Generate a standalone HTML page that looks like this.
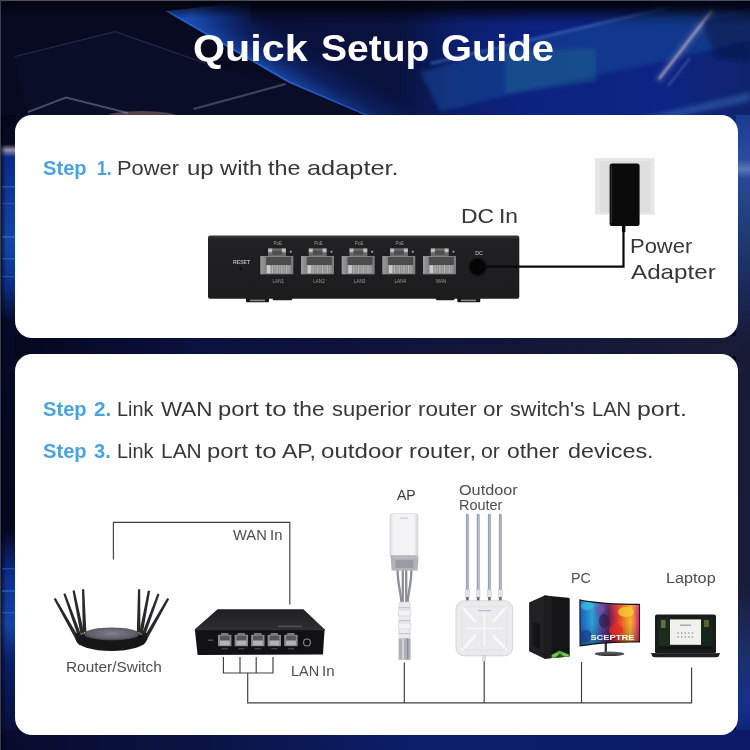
<!DOCTYPE html>
<html>
<head>
<meta charset="utf-8">
<title>Quick Setup Guide</title>
<style>
html,body{margin:0;padding:0;}
body{width:750px;height:750px;overflow:hidden;position:relative;background:#060a22;font-family:"Liberation Sans",sans-serif;}
#bg{position:absolute;left:0;top:0;width:750px;height:750px;}
.card{position:absolute;background:#fff;border-radius:17px;}
#c1{left:15px;top:115px;width:722.5px;height:223px;}
#c2{left:15px;top:353.5px;width:722.5px;height:381px;}
.w{position:absolute;white-space:nowrap;color:#363636;transform-origin:0 0;line-height:1;}
svg{position:absolute;left:0;top:0;}
</style>
</head>
<body>
<svg id="bg" width="750" height="750" viewBox="0 0 750 750">
<defs>
<linearGradient id="gBase" x1="0" y1="0" x2="1" y2="0">
<stop offset="0" stop-color="#03040f"/><stop offset="0.3" stop-color="#04061a"/><stop offset="0.5" stop-color="#0a1c6a"/><stop offset="0.65" stop-color="#0e2a8e"/><stop offset="0.85" stop-color="#123096"/><stop offset="1" stop-color="#122a7c"/>
</linearGradient>
<linearGradient id="gPara" gradientUnits="userSpaceOnUse" x1="165" y1="0" x2="750" y2="0">
<stop offset="0" stop-color="#0b1648"/><stop offset="0.15" stop-color="#09103a"/><stop offset="0.4" stop-color="#09123e"/><stop offset="0.5" stop-color="#0b1e6c"/><stop offset="0.62" stop-color="#0c2280"/><stop offset="0.85" stop-color="#0d2484"/><stop offset="1" stop-color="#10246c"/>
</linearGradient>
<linearGradient id="gEdge" gradientUnits="userSpaceOnUse" x1="165" y1="11" x2="187.6" y2="-28">
<stop offset="0" stop-color="#1c4cb0" stop-opacity="0.9"/><stop offset="0.4" stop-color="#143a98" stop-opacity="0.4"/><stop offset="1" stop-color="#0c2070" stop-opacity="0"/>
</linearGradient>
<radialGradient id="gVtx" gradientUnits="userSpaceOnUse" cx="192" cy="14" r="72">
<stop offset="0" stop-color="#1e56c0" stop-opacity="0.7"/><stop offset="0.55" stop-color="#143c9c" stop-opacity="0.3"/><stop offset="1" stop-color="#0c2070" stop-opacity="0"/>
</radialGradient>
<linearGradient id="gTopDark" x1="0" y1="0" x2="0" y2="1">
<stop offset="0" stop-color="#02030e" stop-opacity="1"/><stop offset="1" stop-color="#02030e" stop-opacity="0"/>
</linearGradient>
<linearGradient id="gLeft" x1="0" y1="0" x2="0" y2="1">
<stop offset="0" stop-color="#04061a"/><stop offset="0.046" stop-color="#070a24"/><stop offset="0.055" stop-color="#9a90ae"/><stop offset="0.066" stop-color="#0c2a8a"/><stop offset="0.2" stop-color="#1346a8"/><stop offset="0.27" stop-color="#0c2c86"/><stop offset="0.325" stop-color="#060a28"/><stop offset="0.65" stop-color="#05071e"/><stop offset="0.72" stop-color="#0c2a88"/><stop offset="0.8" stop-color="#1444a6"/><stop offset="0.86" stop-color="#0a1e66"/><stop offset="1" stop-color="#070b30"/>
</linearGradient>
<linearGradient id="gRight" x1="0" y1="0" x2="0" y2="1">
<stop offset="0" stop-color="#1a3a90"/><stop offset="0.07" stop-color="#2c4c9c"/><stop offset="0.085" stop-color="#5a78b8"/><stop offset="0.1" stop-color="#2a4894"/><stop offset="0.16" stop-color="#22407e"/><stop offset="0.27" stop-color="#1a2a5a"/><stop offset="0.36" stop-color="#171b36"/><stop offset="0.74" stop-color="#181c38"/><stop offset="0.84" stop-color="#1c2e66"/><stop offset="0.93" stop-color="#14308a"/><stop offset="1" stop-color="#0a1a66"/>
</linearGradient>
<linearGradient id="gGap" x1="0" y1="0" x2="1" y2="0">
<stop offset="0" stop-color="#05071e"/><stop offset="0.25" stop-color="#0a1040"/><stop offset="0.6" stop-color="#10153a"/><stop offset="1" stop-color="#181c36"/>
</linearGradient>
<linearGradient id="gBot" x1="0" y1="0" x2="1" y2="0">
<stop offset="0" stop-color="#070b2c"/><stop offset="0.3" stop-color="#0a1446"/><stop offset="0.55" stop-color="#0c1e6a"/><stop offset="1" stop-color="#0a1a66"/>
</linearGradient>
</defs>
<rect width="750" height="750" fill="#05071e"/>
<!-- top band -->
<rect x="0" y="0" width="750" height="130" fill="url(#gBase)"/>
<polygon points="165,11 262,0 750,0 750,130 400,130 289,83" fill="url(#gPara)"/>
<polygon points="165,11 262,0 750,0 750,130 400,130 289,83" fill="url(#gEdge)"/>
<polygon points="165,11 262,0 750,0 750,130 400,130 289,83" fill="url(#gVtx)"/>
<polygon points="165,11 167,10 291,82 402,130 398,130 289,84" fill="#2a66d0" opacity="0.8"/>
<polygon points="0,0 262,0 165,11 289,83 400,130 0,130" fill="#070a20"/>
<!-- light streaks right -->
<filter id="bl2" x="-10%" y="-30%" width="120%" height="160%"><feGaussianBlur stdDeviation="2.2"/></filter>
<filter id="bl1" x="-10%" y="-30%" width="120%" height="160%"><feGaussianBlur stdDeviation="1"/></filter>
<g filter="url(#bl2)">
<polygon points="420,72 540,38 666,8 750,10 750,40 697,53 652,64 540,87 440,112" fill="#1c4c9a" opacity="0.5"/>
<polygon points="505,52 596,48 596,81 505,94" fill="#1a5c8e" opacity="0.55"/>
<polygon points="600,130 652,115 750,92 750,101 652,123 625,130" fill="#3a6ab8" opacity="0.5"/>
<line x1="657.6" y1="81" x2="713.6" y2="8.4" stroke="#6a7ab8" stroke-width="8" opacity="0.35"/>
<polygon points="700,18 750,14 750,62 716,58" fill="#0a1448" opacity="0.55"/>
</g>
<g filter="url(#bl1)">
<polygon points="430,62 540,36 666,6 668,9 541,39 431,65" fill="#4a7ac8" opacity="0.5"/>
<line x1="659" y1="79" x2="712" y2="10.5" stroke="#d8c8cc" stroke-width="2.4" opacity="0.65"/>
<line x1="668" y1="86" x2="690" y2="58" stroke="#8a9ad0" stroke-width="2" opacity="0.4"/>
</g>
<rect x="250" y="0" width="500" height="26" fill="url(#gTopDark)" opacity="0.8"/>
<!-- grey streaks left -->
<polygon points="193,108 285,83 286,85 194,110" fill="#9a9cae" opacity="0.8"/>
<polygon points="15,56 115,31 215,66 215,67.2 115,32.4 15,57.2" fill="#2a3156" opacity="0.8"/>
<polygon points="115,32.4 215,67.2 289,84 400,130 30,130 15,57.2" fill="#0c1030" opacity="0.55"/>
<polygon points="28,111 66,96.5 128,112 128,114 66,98.5 28,113" fill="#6a6c84" opacity="0.7"/>
<ellipse cx="142" cy="116" rx="34" ry="5" fill="#c09080" opacity="0.4"/>
<rect x="0" y="0" width="750" height="18" fill="url(#gTopDark)"/>
<!-- strips -->
<rect x="0" y="115" width="16" height="635" fill="url(#gLeft)"/>
<rect x="736" y="115" width="14" height="635" fill="url(#gRight)"/>
<rect x="14" y="336" width="726" height="20" fill="url(#gGap)"/>
<rect x="0" y="730" width="750" height="20" fill="url(#gBot)"/>
<linearGradient id="gLfade" x1="0" y1="0" x2="1" y2="0"><stop offset="0" stop-color="#03040f" stop-opacity="0.85"/><stop offset="1" stop-color="#03040f" stop-opacity="0"/></linearGradient>
<rect x="0" y="115" width="6" height="635" fill="url(#gLfade)"/>
<g fill="#3a7ad0" opacity="0.45"><rect x="2" y="186" width="14" height="1.6"/><rect x="2" y="203" width="14" height="1.2"/><rect x="2" y="236" width="14" height="2"/><rect x="2" y="258" width="14" height="1.4"/><rect x="2" y="276" width="14" height="1.2"/><rect x="2" y="568" width="14" height="1.4"/><rect x="2" y="590" width="14" height="2"/><rect x="2" y="612" width="14" height="1.4"/></g>
<!-- edge highlight -->
<rect x="0" y="0" width="750" height="1" fill="#4a4e60"/>
<rect x="0" y="0" width="1" height="750" fill="#3a3e52"/>
</svg>
<div id="c1" class="card"></div>
<div id="c2" class="card"></div>
<div id="words" style="position:absolute;left:0;top:0;width:750px;height:750px;will-change:transform;"><!--WORDS-->
<span class="w" style="left:193.4px;top:30.3px;font-size:37.5px;transform:scaleX(1.100);font-weight:bold;color:#fff;">Quick</span>
<span class="w" style="left:320.6px;top:30.3px;font-size:37.5px;transform:scaleX(1.039);font-weight:bold;color:#fff;">Setup</span>
<span class="w" style="left:441.1px;top:30.3px;font-size:37.5px;transform:scaleX(1.063);font-weight:bold;color:#fff;">Guide</span>
<span class="w" style="left:43.1px;top:157.5px;font-size:20.7px;transform:scaleX(0.974);font-weight:bold;color:#4ba3de;">Step</span>
<span class="w" style="left:96.5px;top:157.5px;font-size:20.7px;transform:scaleX(0.853);font-weight:bold;color:#4ba3de;">1.</span>
<span class="w" style="left:116.9px;top:157.5px;font-size:20.7px;transform:scaleX(1.058);">Power</span>
<span class="w" style="left:186.6px;top:157.5px;font-size:20.7px;transform:scaleX(1.160);">up</span>
<span class="w" style="left:219.7px;top:157.5px;font-size:20.7px;transform:scaleX(1.148);">with</span>
<span class="w" style="left:267.6px;top:157.5px;font-size:20.7px;transform:scaleX(1.128);">the</span>
<span class="w" style="left:306.9px;top:157.5px;font-size:20.7px;transform:scaleX(1.225);">adapter.</span>
<span class="w" style="left:43.1px;top:398.7px;font-size:20.7px;transform:scaleX(0.974);font-weight:bold;color:#4ba3de;">Step</span>
<span class="w" style="left:93.7px;top:398.7px;font-size:20.7px;transform:scaleX(1.002);font-weight:bold;color:#4ba3de;">2.</span>
<span class="w" style="left:117.1px;top:398.7px;font-size:20.7px;transform:scaleX(0.962);">Link</span>
<span class="w" style="left:160.9px;top:398.7px;font-size:20.7px;transform:scaleX(1.084);">WAN</span>
<span class="w" style="left:217.5px;top:398.7px;font-size:20.7px;transform:scaleX(1.147);">port</span>
<span class="w" style="left:265.3px;top:398.7px;font-size:20.7px;transform:scaleX(1.243);">to</span>
<span class="w" style="left:293.4px;top:398.7px;font-size:20.7px;transform:scaleX(1.099);">the</span>
<span class="w" style="left:332.3px;top:398.7px;font-size:20.7px;transform:scaleX(1.061);">superior</span>
<span class="w" style="left:417.8px;top:398.7px;font-size:20.7px;transform:scaleX(1.087);">router</span>
<span class="w" style="left:483.1px;top:398.7px;font-size:20.7px;transform:scaleX(1.085);">or</span>
<span class="w" style="left:509.7px;top:398.7px;font-size:20.7px;transform:scaleX(1.045);">switch&#39;s</span>
<span class="w" style="left:592.3px;top:398.7px;font-size:20.7px;transform:scaleX(0.972);">LAN</span>
<span class="w" style="left:637.1px;top:398.7px;font-size:20.7px;transform:scaleX(1.203);">port.</span>
<span class="w" style="left:43.1px;top:440.7px;font-size:20.7px;transform:scaleX(0.974);font-weight:bold;color:#4ba3de;">Step</span>
<span class="w" style="left:94.2px;top:440.7px;font-size:20.7px;transform:scaleX(0.969);font-weight:bold;color:#4ba3de;">3.</span>
<span class="w" style="left:117.1px;top:440.7px;font-size:20.7px;transform:scaleX(0.962);">Link</span>
<span class="w" style="left:160.6px;top:440.7px;font-size:20.7px;transform:scaleX(1.012);">LAN</span>
<span class="w" style="left:206.8px;top:440.7px;font-size:20.7px;transform:scaleX(1.150);">port</span>
<span class="w" style="left:254.5px;top:440.7px;font-size:20.7px;transform:scaleX(1.243);">to</span>
<span class="w" style="left:282.3px;top:440.7px;font-size:20.7px;transform:scaleX(1.108);">AP,</span>
<span class="w" style="left:321.3px;top:440.7px;font-size:20.7px;transform:scaleX(1.165);">outdoor</span>
<span class="w" style="left:408.5px;top:440.7px;font-size:20.7px;transform:scaleX(1.145);">router,</span>
<span class="w" style="left:480.7px;top:440.7px;font-size:20.7px;transform:scaleX(1.027);">or</span>
<span class="w" style="left:507.1px;top:440.7px;font-size:20.7px;transform:scaleX(1.107);">other</span>
<span class="w" style="left:567.8px;top:440.7px;font-size:20.7px;transform:scaleX(1.128);">devices.</span>
<span class="w" style="left:461.2px;top:206.3px;font-size:20.7px;transform:scaleX(1.110);">DC</span>
<span class="w" style="left:499.4px;top:206.3px;font-size:20.7px;transform:scaleX(1.101);">In</span>
<span class="w" style="left:629.7px;top:235.5px;font-size:20.7px;transform:scaleX(1.061);">Power</span>
<span class="w" style="left:630.9px;top:262.2px;font-size:20.7px;transform:scaleX(1.169);">Adapter</span>
<span class="w" style="left:232.5px;top:528.4px;font-size:14px;transform:scaleX(1.051);color:#4d4d4d;">WAN</span>
<span class="w" style="left:269.6px;top:528.4px;font-size:14px;transform:scaleX(1.061);color:#4d4d4d;">In</span>
<span class="w" style="left:291.2px;top:664.2px;font-size:14px;transform:scaleX(1.032);color:#4d4d4d;">LAN</span>
<span class="w" style="left:322.4px;top:664.2px;font-size:14px;transform:scaleX(1.071);color:#4d4d4d;">In</span>
<span class="w" style="left:66.1px;top:659.9px;font-size:14px;transform:scaleX(1.100);color:#4d4d4d;">Router/Switch</span>
<span class="w" style="left:396.6px;top:488.2px;font-size:14px;transform:scaleX(1.003);color:#3a3a3a;">AP</span>
<span class="w" style="left:458.7px;top:482.6px;font-size:14px;transform:scaleX(1.158);color:#4d4d4d;">Outdoor</span>
<span class="w" style="left:458.8px;top:498.2px;font-size:14px;transform:scaleX(1.033);color:#4d4d4d;">Router</span>
<span class="w" style="left:570.9px;top:570.7px;font-size:14px;transform:scaleX(1.022);color:#4d4d4d;">PC</span>
<span class="w" style="left:665.8px;top:570.9px;font-size:14px;transform:scaleX(1.160);color:#4d4d4d;">Laptop</span>
<!--/WORDS--></div>
<svg id="fg" width="750" height="750" viewBox="0 0 750 750" font-family="Liberation Sans, sans-serif">
<!--C1-->
<!-- switch rear -->
<defs><linearGradient id="gSw" x1="0" y1="0" x2="0" y2="1"><stop offset="0" stop-color="#3a3a3c"/><stop offset="0.04" stop-color="#2c2c2e"/><stop offset="0.06" stop-color="#212123"/><stop offset="1" stop-color="#1c1c1e"/></linearGradient><linearGradient id="gPort" x1="0" y1="0" x2="1" y2="0"><stop offset="0" stop-color="#9c9c9c"/><stop offset="0.15" stop-color="#868686"/><stop offset="1" stop-color="#7c7c7c"/></linearGradient></defs>
<rect x="246" y="297" width="23" height="5.3" rx="1" fill="#151515"/><rect x="250" y="299.6" width="15" height="1.6" fill="#8a8a8a"/>
<rect x="272.7" y="297" width="19.5" height="3.2" rx="1" fill="#1a1a1a"/>
<rect x="436" y="297" width="18.5" height="3.2" rx="1" fill="#1a1a1a"/>
<rect x="457.3" y="297" width="23" height="5.3" rx="1" fill="#151515"/><rect x="461" y="299.6" width="15" height="1.6" fill="#8a8a8a"/>
<rect x="208" y="235.6" width="311.3" height="63.2" rx="2" fill="url(#gSw)"/>
<rect x="268.0" y="248.3" width="18" height="8.5" fill="#6a6a6a"/>
<rect x="268.2" y="248.6" width="4" height="3.6" fill="#bebebe"/><rect x="281.8" y="248.6" width="4" height="3.6" fill="#bebebe"/>
<rect x="272.2" y="250.8" width="9.6" height="4" fill="#4e4e4e"/>
<rect x="260.3" y="256" width="33" height="18.3" fill="url(#gPort)"/>
<rect x="266.1" y="257" width="25" height="8" fill="#4c4c4c"/>
<rect x="266.1" y="265" width="25" height="8.4" fill="#8e8e8e"/>
<rect x="266.9" y="265.2" width="3.6" height="8" fill="#cacaca"/>
<rect x="271.9" y="265.4" width="1.1" height="7.8" fill="#b8b8b8"/>
<rect x="274.3" y="265.4" width="1.1" height="7.8" fill="#a4a4a4"/>
<rect x="276.6" y="265.4" width="1.1" height="7.8" fill="#b8b8b8"/>
<rect x="279.0" y="265.4" width="1.1" height="7.8" fill="#a4a4a4"/>
<rect x="281.3" y="265.4" width="1.1" height="7.8" fill="#b8b8b8"/>
<rect x="283.7" y="265.4" width="1.1" height="7.8" fill="#a4a4a4"/>
<rect x="286.0" y="265.4" width="1.1" height="7.8" fill="#b8b8b8"/>
<rect x="288.4" y="265.4" width="1.1" height="7.8" fill="#a4a4a4"/>
<rect x="289.9" y="250.8" width="1.8" height="1.8" fill="#acacac"/>
<text x="277.8" y="245" font-size="4.6" fill="#9a9a9a" text-anchor="middle">PoE</text>
<text x="278.3" y="283" font-size="4.6" fill="#9a9a9a" text-anchor="middle">LAN1</text>
<rect x="308.7" y="248.3" width="18" height="8.5" fill="#6a6a6a"/>
<rect x="308.9" y="248.6" width="4" height="3.6" fill="#bebebe"/><rect x="322.5" y="248.6" width="4" height="3.6" fill="#bebebe"/>
<rect x="312.9" y="250.8" width="9.6" height="4" fill="#4e4e4e"/>
<rect x="301.0" y="256" width="33" height="18.3" fill="url(#gPort)"/>
<rect x="306.8" y="257" width="25" height="8" fill="#4c4c4c"/>
<rect x="306.8" y="265" width="25" height="8.4" fill="#8e8e8e"/>
<rect x="307.6" y="265.2" width="3.6" height="8" fill="#cacaca"/>
<rect x="312.6" y="265.4" width="1.1" height="7.8" fill="#b8b8b8"/>
<rect x="315.0" y="265.4" width="1.1" height="7.8" fill="#a4a4a4"/>
<rect x="317.3" y="265.4" width="1.1" height="7.8" fill="#b8b8b8"/>
<rect x="319.7" y="265.4" width="1.1" height="7.8" fill="#a4a4a4"/>
<rect x="322.0" y="265.4" width="1.1" height="7.8" fill="#b8b8b8"/>
<rect x="324.4" y="265.4" width="1.1" height="7.8" fill="#a4a4a4"/>
<rect x="326.7" y="265.4" width="1.1" height="7.8" fill="#b8b8b8"/>
<rect x="329.1" y="265.4" width="1.1" height="7.8" fill="#a4a4a4"/>
<rect x="330.6" y="250.8" width="1.8" height="1.8" fill="#acacac"/>
<text x="318.5" y="245" font-size="4.6" fill="#9a9a9a" text-anchor="middle">PoE</text>
<text x="319.0" y="283" font-size="4.6" fill="#9a9a9a" text-anchor="middle">LAN2</text>
<rect x="349.4" y="248.3" width="18" height="8.5" fill="#6a6a6a"/>
<rect x="349.6" y="248.6" width="4" height="3.6" fill="#bebebe"/><rect x="363.2" y="248.6" width="4" height="3.6" fill="#bebebe"/>
<rect x="353.6" y="250.8" width="9.6" height="4" fill="#4e4e4e"/>
<rect x="341.7" y="256" width="33" height="18.3" fill="url(#gPort)"/>
<rect x="347.5" y="257" width="25" height="8" fill="#4c4c4c"/>
<rect x="347.5" y="265" width="25" height="8.4" fill="#8e8e8e"/>
<rect x="348.3" y="265.2" width="3.6" height="8" fill="#cacaca"/>
<rect x="353.3" y="265.4" width="1.1" height="7.8" fill="#b8b8b8"/>
<rect x="355.7" y="265.4" width="1.1" height="7.8" fill="#a4a4a4"/>
<rect x="358.0" y="265.4" width="1.1" height="7.8" fill="#b8b8b8"/>
<rect x="360.4" y="265.4" width="1.1" height="7.8" fill="#a4a4a4"/>
<rect x="362.7" y="265.4" width="1.1" height="7.8" fill="#b8b8b8"/>
<rect x="365.1" y="265.4" width="1.1" height="7.8" fill="#a4a4a4"/>
<rect x="367.4" y="265.4" width="1.1" height="7.8" fill="#b8b8b8"/>
<rect x="369.8" y="265.4" width="1.1" height="7.8" fill="#a4a4a4"/>
<rect x="371.3" y="250.8" width="1.8" height="1.8" fill="#acacac"/>
<text x="359.2" y="245" font-size="4.6" fill="#9a9a9a" text-anchor="middle">PoE</text>
<text x="359.7" y="283" font-size="4.6" fill="#9a9a9a" text-anchor="middle">LAN3</text>
<rect x="390.0" y="248.3" width="18" height="8.5" fill="#6a6a6a"/>
<rect x="390.2" y="248.6" width="4" height="3.6" fill="#bebebe"/><rect x="403.8" y="248.6" width="4" height="3.6" fill="#bebebe"/>
<rect x="394.2" y="250.8" width="9.6" height="4" fill="#4e4e4e"/>
<rect x="382.3" y="256" width="33" height="18.3" fill="url(#gPort)"/>
<rect x="388.1" y="257" width="25" height="8" fill="#4c4c4c"/>
<rect x="388.1" y="265" width="25" height="8.4" fill="#8e8e8e"/>
<rect x="388.9" y="265.2" width="3.6" height="8" fill="#cacaca"/>
<rect x="393.9" y="265.4" width="1.1" height="7.8" fill="#b8b8b8"/>
<rect x="396.3" y="265.4" width="1.1" height="7.8" fill="#a4a4a4"/>
<rect x="398.6" y="265.4" width="1.1" height="7.8" fill="#b8b8b8"/>
<rect x="401.0" y="265.4" width="1.1" height="7.8" fill="#a4a4a4"/>
<rect x="403.3" y="265.4" width="1.1" height="7.8" fill="#b8b8b8"/>
<rect x="405.7" y="265.4" width="1.1" height="7.8" fill="#a4a4a4"/>
<rect x="408.0" y="265.4" width="1.1" height="7.8" fill="#b8b8b8"/>
<rect x="410.4" y="265.4" width="1.1" height="7.8" fill="#a4a4a4"/>
<rect x="411.9" y="250.8" width="1.8" height="1.8" fill="#acacac"/>
<text x="399.8" y="245" font-size="4.6" fill="#9a9a9a" text-anchor="middle">PoE</text>
<text x="400.3" y="283" font-size="4.6" fill="#9a9a9a" text-anchor="middle">LAN4</text>
<rect x="430.7" y="248.3" width="18" height="8.5" fill="#6a6a6a"/>
<rect x="430.9" y="248.6" width="4" height="3.6" fill="#bebebe"/><rect x="444.5" y="248.6" width="4" height="3.6" fill="#bebebe"/>
<rect x="434.9" y="250.8" width="9.6" height="4" fill="#4e4e4e"/>
<rect x="423.0" y="256" width="33" height="18.3" fill="url(#gPort)"/>
<rect x="428.8" y="257" width="25" height="8" fill="#4c4c4c"/>
<rect x="428.8" y="265" width="25" height="8.4" fill="#8e8e8e"/>
<rect x="429.6" y="265.2" width="3.6" height="8" fill="#cacaca"/>
<rect x="434.6" y="265.4" width="1.1" height="7.8" fill="#b8b8b8"/>
<rect x="437.0" y="265.4" width="1.1" height="7.8" fill="#a4a4a4"/>
<rect x="439.3" y="265.4" width="1.1" height="7.8" fill="#b8b8b8"/>
<rect x="441.7" y="265.4" width="1.1" height="7.8" fill="#a4a4a4"/>
<rect x="444.0" y="265.4" width="1.1" height="7.8" fill="#b8b8b8"/>
<rect x="446.4" y="265.4" width="1.1" height="7.8" fill="#a4a4a4"/>
<rect x="448.7" y="265.4" width="1.1" height="7.8" fill="#b8b8b8"/>
<rect x="451.1" y="265.4" width="1.1" height="7.8" fill="#a4a4a4"/>
<rect x="452.6" y="250.8" width="1.8" height="1.8" fill="#acacac"/>
<text x="441.0" y="283" font-size="4.6" fill="#9a9a9a" text-anchor="middle">WAN</text>
<text x="241.6" y="263.6" font-size="5.2" fill="#b4b4b4" text-anchor="middle" font-weight="bold">RESET</text>
<circle cx="240.8" cy="268.6" r="1.3" fill="#0a0a0a"/>
<text x="479" y="254.5" font-size="5.2" fill="#d0d0d0" text-anchor="middle">DC</text>
<circle cx="477.6" cy="267" r="9.6" fill="#161616"/><circle cx="477.6" cy="267" r="8" fill="#050505"/>
<path d="M478 266.7 H623.5 V226" fill="none" stroke="#0a0a0a" stroke-width="2.2"/>
<rect x="622" y="225" width="3.4" height="7" fill="#0a0a0a"/>
<rect x="595" y="158" width="59.5" height="56.6" fill="#e6e6e6"/><rect x="600" y="161" width="50" height="51" fill="#dedede"/>
<rect x="609.6" y="163.6" width="30" height="62.4" rx="2.6" fill="#0b0b0b"/><rect x="610.6" y="166" width="1.6" height="57" fill="#2a2a2a"/>
<!--/C1-->
<!--C2-->
<g fill="none" stroke="#3e3e3e" stroke-width="1.15">
<path d="M113.4 559.5 V522.3 H289.8 V604.5"/>
<path d="M223.4 657 V673 H273 V657 M240 657 V673 M256.2 657 V673"/>
<path d="M247.7 673 V702.8 H691.6 V667.5"/>
<path d="M404.3 662.5 V702.8 M484.2 660 V702.8 M581.5 662 V702.8"/>
</g>
<polygon points="53.7,598.9 55.7,597.9 78.9,637.6 75.7,639.4" fill="#29292b"/>
<polygon points="63.4,594.0 65.4,593.2 81.5,635.7 78.1,636.9" fill="#29292b"/>
<polygon points="72.5,590.7 74.7,590.3 84.1,633.3 80.5,634.1" fill="#29292b"/>
<polygon points="82.0,589.2 84.2,589.2 86.4,631.9 82.8,632.1" fill="#29292b"/>
<polygon points="138.0,589.2 140.2,589.2 140.4,632.0 136.8,632.0" fill="#29292b"/>
<polygon points="147.9,590.5 150.1,590.9 142.7,634.0 139.1,633.4" fill="#29292b"/>
<polygon points="157.5,593.5 159.5,594.3 144.6,636.9 141.2,635.7" fill="#29292b"/>
<polygon points="167.2,597.9 169.2,598.9 147.0,639.4 143.8,637.6" fill="#29292b"/>
<defs><radialGradient id="gRt" cx="0.5" cy="0.45" r="0.6"><stop offset="0" stop-color="#80808a"/><stop offset="0.7" stop-color="#5e5e68"/><stop offset="1" stop-color="#2c2c30"/></radialGradient></defs>
<ellipse cx="111.3" cy="640.2" rx="35.2" ry="10.8" fill="#161618"/>
<ellipse cx="111.7" cy="634" rx="28" ry="6.5" fill="url(#gRt)"/>
<rect x="75.6" y="633" width="4.4" height="7" fill="#1a1a1c"/><rect x="142.8" y="633" width="4.4" height="7" fill="#1a1a1c"/>
<defs><linearGradient id="gTop" x1="0" y1="0" x2="0" y2="1"><stop offset="0" stop-color="#1f1f21"/><stop offset="1" stop-color="#2e2e31"/></linearGradient></defs>
<polygon points="217.6,609.3 303.4,609.3 324.6,629.3 194.8,629.3" fill="url(#gTop)"/>
<polygon points="194.8,629.1 324.6,629.1 323,654.6 197.6,655" fill="#121214"/>
<rect x="195.2" y="628.9" width="129.8" height="1.3" fill="#303033"/>
<rect x="278" y="625.6" width="24" height="1.6" fill="#505054"/>
<rect x="208" y="639.6" width="5" height="1.2" fill="#5a5a5e"/>
<rect x="218.0" y="634.8" width="13.4" height="11.4" fill="#8a8a8e"/>
<rect x="221.0" y="633" width="7.4" height="3" fill="#7a7a7e"/>
<rect x="220.0" y="636" width="9.6" height="4.6" fill="#55555a"/>
<rect x="220.0" y="640.6" width="9.6" height="4.6" fill="#b4b4b8"/>
<rect x="221.8" y="648.2" width="6" height="1.1" fill="#505054"/>
<rect x="234.6" y="634.8" width="13.4" height="11.4" fill="#8a8a8e"/>
<rect x="237.6" y="633" width="7.4" height="3" fill="#7a7a7e"/>
<rect x="236.6" y="636" width="9.6" height="4.6" fill="#55555a"/>
<rect x="236.6" y="640.6" width="9.6" height="4.6" fill="#b4b4b8"/>
<rect x="238.4" y="648.2" width="6" height="1.1" fill="#505054"/>
<rect x="251.1" y="634.8" width="13.4" height="11.4" fill="#8a8a8e"/>
<rect x="254.1" y="633" width="7.4" height="3" fill="#7a7a7e"/>
<rect x="253.1" y="636" width="9.6" height="4.6" fill="#55555a"/>
<rect x="253.1" y="640.6" width="9.6" height="4.6" fill="#b4b4b8"/>
<rect x="254.9" y="648.2" width="6" height="1.1" fill="#505054"/>
<rect x="267.6" y="634.8" width="13.4" height="11.4" fill="#8a8a8e"/>
<rect x="270.6" y="633" width="7.4" height="3" fill="#7a7a7e"/>
<rect x="269.6" y="636" width="9.6" height="4.6" fill="#55555a"/>
<rect x="269.6" y="640.6" width="9.6" height="4.6" fill="#b4b4b8"/>
<rect x="271.4" y="648.2" width="6" height="1.1" fill="#505054"/>
<rect x="284.2" y="634.8" width="13.4" height="11.4" fill="#8a8a8e"/>
<rect x="287.2" y="633" width="7.4" height="3" fill="#7a7a7e"/>
<rect x="286.2" y="636" width="9.6" height="4.6" fill="#55555a"/>
<rect x="286.2" y="640.6" width="9.6" height="4.6" fill="#b4b4b8"/>
<rect x="288.0" y="648.2" width="6" height="1.1" fill="#505054"/>
<circle cx="307" cy="642.4" r="3.4" fill="#0c0c0e" stroke="#8c8c90" stroke-width="1.1"/>
<defs><linearGradient id="gAP" x1="0" y1="0" x2="1" y2="0"><stop offset="0" stop-color="#dcdce0"/><stop offset="0.12" stop-color="#f2f2f4"/><stop offset="0.85" stop-color="#f4f4f6"/><stop offset="1" stop-color="#d6d6da"/></linearGradient></defs>
<g fill="none" stroke="#8e8e98" stroke-width="2.3"><path d="M397.6 569 C397.6 585 401 592 401.4 603"/><path d="M411.4 569 C411.4 585 408 592 407.6 603"/><path d="M402.8 569 V603"/><path d="M406.2 569 V603"/></g>
<polygon points="390.6,557 418.6,557 417.6,570.4 391.6,570.4" fill="#b2b2ba"/>
<rect x="395.5" y="560" width="18" height="8" fill="#9a9aa2"/>
<rect x="390" y="513.6" width="28" height="43.4" rx="2.6" fill="url(#gAP)" stroke="#d0d0d6" stroke-width="0.6"/>
<rect x="390.4" y="555.2" width="27.2" height="1.8" fill="#b4b4bc"/>
<rect x="400" y="517.6" width="8" height="1" fill="#c4c4cc"/>
<rect x="399" y="602" width="11" height="36.4" rx="1.5" fill="#ebebef" stroke="#cfcfd5" stroke-width="0.6"/>
<rect x="398.4" y="607.0" width="12.2" height="1.2" fill="#c8c8d0"/>
<rect x="398.4" y="613.0" width="12.2" height="1.2" fill="#c8c8d0"/>
<rect x="398.4" y="620.0" width="12.2" height="1.2" fill="#c8c8d0"/>
<rect x="398.4" y="627.0" width="12.2" height="1.2" fill="#c8c8d0"/>
<rect x="398.4" y="633.0" width="12.2" height="1.2" fill="#c8c8d0"/>
<rect x="398.4" y="610" width="12.6" height="6" rx="1" fill="#f2f2f5" stroke="#c8c8d0" stroke-width="0.5"/>
<rect x="398.4" y="623" width="12.6" height="6" rx="1" fill="#f2f2f5" stroke="#c8c8d0" stroke-width="0.5"/>
<rect x="398.6" y="638.4" width="12" height="21.4" fill="#b0b0b8"/><rect x="402" y="638.4" width="2" height="21.4" fill="#d4d4da"/><rect x="407" y="638.4" width="1.4" height="21.4" fill="#8e8e96"/>
<rect x="465.9" y="513.8" width="3" height="77" rx="1.4" fill="#98a0b4"/>
<rect x="467.5" y="515" width="0.8" height="74" fill="#c6cad8"/>
<rect x="465.6" y="589.5" width="3.6" height="8" fill="#e4e4e8" stroke="#b8b8c0" stroke-width="0.4"/>
<rect x="466.1" y="597" width="2.6" height="4" fill="#6a6a72"/>
<rect x="476.7" y="513.8" width="3" height="77" rx="1.4" fill="#98a0b4"/>
<rect x="478.3" y="515" width="0.8" height="74" fill="#c6cad8"/>
<rect x="476.4" y="589.5" width="3.6" height="8" fill="#e4e4e8" stroke="#b8b8c0" stroke-width="0.4"/>
<rect x="476.9" y="597" width="2.6" height="4" fill="#6a6a72"/>
<rect x="487.9" y="513.8" width="3" height="77" rx="1.4" fill="#98a0b4"/>
<rect x="489.5" y="515" width="0.8" height="74" fill="#c6cad8"/>
<rect x="487.6" y="589.5" width="3.6" height="8" fill="#e4e4e8" stroke="#b8b8c0" stroke-width="0.4"/>
<rect x="488.1" y="597" width="2.6" height="4" fill="#6a6a72"/>
<rect x="498.9" y="513.8" width="3" height="77" rx="1.4" fill="#98a0b4"/>
<rect x="500.5" y="515" width="0.8" height="74" fill="#c6cad8"/>
<rect x="498.6" y="589.5" width="3.6" height="8" fill="#e4e4e8" stroke="#b8b8c0" stroke-width="0.4"/>
<rect x="499.1" y="597" width="2.6" height="4" fill="#6a6a72"/>
<rect x="456" y="600.8" width="56.6" height="55" rx="8" fill="#ebebef" stroke="#d2d2d8" stroke-width="0.9"/>
<g fill="none" stroke="#f8f8fa" stroke-width="2.6"><path d="M462 607 L476 622 M506.6 607 L492.6 622 M462 650 L476 635 M506.6 650 L492.6 635"/><path d="M484.3 612 V646 M466 628.5 H502.6" stroke-width="1.6"/></g>
<rect x="462" y="606.6" width="44.6" height="43.6" rx="5" fill="none" stroke="#dcdce2" stroke-width="0.8"/>
<rect x="478" y="610" width="13" height="1.2" fill="#b8bcc8"/>
<rect x="482.8" y="655.8" width="3" height="5.4" fill="#dcdce2" stroke="#b8b8c0" stroke-width="0.4"/>
<defs><linearGradient id="gGrn" x1="0" y1="0" x2="0" y2="1"><stop offset="0" stop-color="#3c8a2c"/><stop offset="0.6" stop-color="#7ad054"/><stop offset="1" stop-color="#4aa030"/></linearGradient></defs>
<polygon points="529.1,602.6 544.6,595.5 546,595.6 546,658.6 544.6,658.7 529.1,651.2" fill="#212123"/>
<path d="M544.6 595.5 L568.4 597.7 Q569.7 597.9 569.7 599.2 L569.7 656.5 L544.6 658.7 Z" fill="#141416"/>
<polygon points="544.6,595.5 551.5,596.2 551.5,658.1 544.6,658.7" fill="#1d1d1f"/>
<polygon points="533,622 540,624 540,649 533,646" fill="#151517"/>
<polygon points="551.6,655 559.6,650.4 568.2,654.2 569.4,656.5 551.6,658.1" fill="url(#gGrn)"/>
<polygon points="555.5,657.6 559.8,653.6 565,656.9" fill="#1c2c18" opacity="0.8"/>
<defs><linearGradient id="gMon" x1="0" y1="0" x2="1" y2="0"><stop offset="0" stop-color="#1c5cc0"/><stop offset="0.2" stop-color="#28a4d8"/><stop offset="0.36" stop-color="#4a4aa8"/><stop offset="0.48" stop-color="#5a2058"/><stop offset="0.6" stop-color="#d82838"/><stop offset="0.74" stop-color="#f07424"/><stop offset="0.86" stop-color="#f6b82c"/><stop offset="1" stop-color="#e02878"/></linearGradient><linearGradient id="gMonV" x1="0" y1="0" x2="0" y2="1"><stop offset="0" stop-color="#fff" stop-opacity="0.12"/><stop offset="0.5" stop-color="#000" stop-opacity="0"/><stop offset="1" stop-color="#000" stop-opacity="0.3"/></linearGradient><linearGradient id="gStand" x1="0" y1="0" x2="0" y2="1"><stop offset="0" stop-color="#6a6a70"/><stop offset="1" stop-color="#2c2c30"/></linearGradient></defs>
<rect x="604.6" y="642" width="2.4" height="10.4" fill="#38383c"/>
<ellipse cx="609.5" cy="653.8" rx="14.9" ry="2.3" fill="url(#gStand)"/>
<path d="M579.3 599.3 C595 602.6 615 603.8 640 603.8 L640 642.4 C615 642.5 597 643.7 579.5 646.6 Z" fill="#15151a"/>
<path d="M580.4 600.8 C595 603.8 615 605 638.9 605 L638.9 641.2 C615 641.3 597 642.4 580.6 645 Z" fill="url(#gMon)"/>
<path d="M580.4 600.8 C595 603.8 615 605 638.9 605 L638.9 641.2 C615 641.3 597 642.4 580.6 645 Z" fill="url(#gMonV)"/>
<ellipse cx="587" cy="606" rx="6" ry="4" fill="#30c4e0" opacity="0.7"/>
<ellipse cx="586" cy="636" rx="6" ry="6" fill="#1c3488" opacity="0.6"/>
<ellipse cx="604" cy="621" rx="5" ry="7" fill="#2a1430" opacity="0.55"/>
<ellipse cx="626" cy="612" rx="8" ry="5" fill="#f8d030" opacity="0.75"/>
<ellipse cx="616" cy="630" rx="7" ry="6" fill="#e42a24" opacity="0.7"/>
<ellipse cx="600" cy="609" rx="5" ry="3.4" fill="#8a4ab0" opacity="0.6"/>
<text x="612.4" y="640" font-size="7.6" font-weight="bold" fill="#fff" text-anchor="middle" textLength="44" lengthAdjust="spacingAndGlyphs" opacity="0.95">SCEPTRE</text>
<rect x="655" y="614.5" width="61" height="39" rx="2" fill="#1b1b1d"/>
<rect x="658.3" y="617.8" width="54.4" height="31" fill="#12201a"/>
<rect x="658.3" y="617.8" width="12" height="31" fill="#1a2c20"/><rect x="701" y="617.8" width="11.7" height="31" fill="#16261c"/>
<rect x="661" y="620" width="4.6" height="8" fill="#7a8a50" opacity="0.7"/><rect x="704" y="620" width="5" height="7" fill="#8a8a40" opacity="0.6"/>
<rect x="670" y="619.4" width="31" height="25.4" fill="#f0f0ec"/>
<rect x="680" y="624.4" width="11" height="1.6" fill="#a8acb8"/>
<rect x="677.4" y="632.4" width="1.4" height="1.4" fill="#8a98b0"/>
<rect x="681.0" y="632.4" width="1.4" height="1.4" fill="#8a98b0"/>
<rect x="684.6" y="632.4" width="1.4" height="1.4" fill="#8a98b0"/>
<rect x="688.2" y="632.4" width="1.4" height="1.4" fill="#8a98b0"/>
<rect x="691.8" y="632.4" width="1.4" height="1.4" fill="#8a98b0"/>
<rect x="677.4" y="636.2" width="1.4" height="1.4" fill="#8a98b0"/>
<rect x="681.0" y="636.2" width="1.4" height="1.4" fill="#8a98b0"/>
<rect x="684.6" y="636.2" width="1.4" height="1.4" fill="#8a98b0"/>
<rect x="688.2" y="636.2" width="1.4" height="1.4" fill="#8a98b0"/>
<rect x="691.8" y="636.2" width="1.4" height="1.4" fill="#8a98b0"/>
<rect x="658.3" y="646.4" width="54.4" height="2.4" fill="#0e1412"/>
<path d="M651 653.2 H720 L718.6 656.6 Q717.8 657.2 716 657.2 H655 Q653.2 657.2 652.4 656.6 Z" fill="#1e1e20"/>
<rect x="651" y="653" width="69" height="1" fill="#38383c"/>
<!--/C2-->
</svg>
</body>
</html>
